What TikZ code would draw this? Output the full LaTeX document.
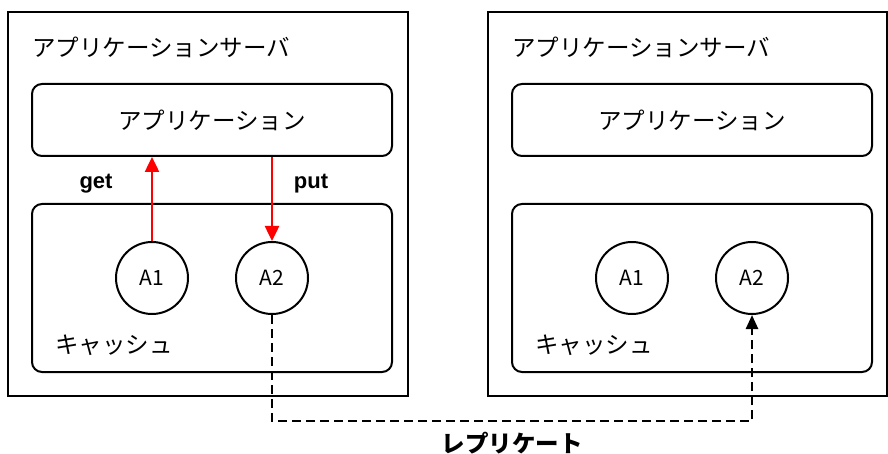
\documentclass[tikz,border=0pt]{standalone}
\usepackage{fontspec}
\setmainfont{Noto Sans CJK JP}
\newfontfamily\latinbold{Liberation Sans}
\usetikzlibrary{arrows.meta}
\begin{document}
\begin{tikzpicture}[x=1pt,y=-1pt,
  every node/.style={font=\fontsize{23.5}{26}\selectfont},
  server/.style={draw,line width=2pt,rectangle,minimum width=400pt,minimum height=384pt,inner sep=0pt},
  inner/.style={draw,line width=2pt,rectangle,rounded corners=10pt,minimum width=360pt,inner sep=0pt},
  item/.style={draw,line width=2pt,circle,minimum size=72pt,inner sep=0pt,font=\fontsize{21}{24}\selectfont},
  lbl/.style={anchor=west,inner sep=0pt},
  call/.style={red,line width=2.5pt,-{Triangle[length=15pt,width=14pt]}},
  repl/.style={black,line width=2.5pt,dash pattern=on 9pt off 5pt,-{Triangle[length=14pt,width=12pt]}},
  verb/.style={font=\fontsize{22}{24}\latinbold\bfseries}]
\useasboundingbox (0,0) rectangle (888,454);
% left server
\node[server] (srvL) at (208,204) {};
\node[lbl] (titleL) at (32,47) {アプリケーションサーバ};
\node[inner,minimum height=72pt] (appL) at (212,120) {アプリケーション};
\node[inner,minimum height=168pt] (cacheL) at (212,288) {};
\node[item] (a1L) at (152,278) {A1};
\node[item] (a2L) at (272,278) {A2};
\node[lbl] (cachelblL) at (55,345) {キャッシュ};
% right server
\node[server,minimum width=399pt] (srvR) at (687.5,204) {};
\node[lbl] (titleR) at (512,47) {アプリケーションサーバ};
\node[inner,minimum height=72pt] (appR) at (692,120) {アプリケーション};
\node[inner,minimum height=168pt] (cacheR) at (692,288) {};
\node[item] (a1R) at (632,278) {A1};
\node[item] (a2R) at (752,278) {A2};
\node[lbl] (cachelblR) at (535,345) {キャッシュ};
% get / put
\draw[call] (a1L.north) -- (a1L.north |- appL.south);
\draw[call] (appL.south -| a2L.north) -- (a2L.north);
\node[verb] (get) at (96,184) {get};
\node[verb] (put) at (311,184) {put};
% replicate
\coordinate (mid) at (512,421);
\draw[repl] (a2L.south) |- (mid) -| (a2R.south);
\node[font=\fontsize{23.5}{26}\selectfont\bfseries] (repllbl) at (512,443) {レプリケート};
\end{tikzpicture}
\end{document}
